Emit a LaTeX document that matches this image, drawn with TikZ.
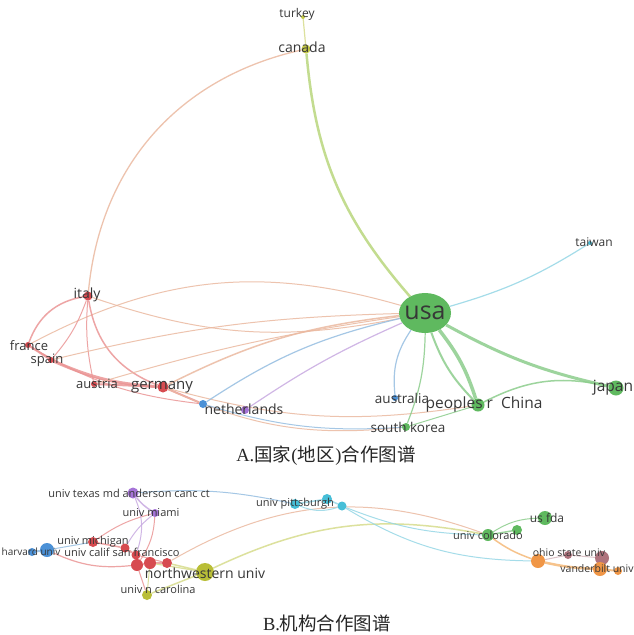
\documentclass[tikz,border=0pt]{standalone}
\usepackage{fontspec}
\setmainfont{Liberation Serif}
\newfontfamily\labfont{Open Sans}
\newfontfamily\cjk{Noto Sans CJK SC}
\usetikzlibrary{shapes.geometric}
\pgfdeclarelayer{bg}
\pgfdeclarelayer{edges}
\pgfsetlayers{bg,edges,main}
\definecolor{cG}{RGB}{95,185,95}
\definecolor{cR}{RGB}{215,75,80}
\definecolor{cY}{RGB}{195,200,70}
\definecolor{cB}{RGB}{75,145,215}
\definecolor{cP}{RGB}{165,115,215}
\definecolor{cC}{RGB}{70,190,215}
\definecolor{cO}{RGB}{240,150,70}
\definecolor{cBr}{RGB}{175,115,125}
\definecolor{cOl}{RGB}{185,190,55}
\definecolor{eG}{RGB}{140,205,140}
\definecolor{eR}{RGB}{235,150,150}
\definecolor{eY}{RGB}{215,220,140}
\definecolor{eRY}{RGB}{235,185,160}
\definecolor{eGY}{RGB}{185,215,125}
\definecolor{eB}{RGB}{150,190,225}
\definecolor{eP}{RGB}{200,170,225}
\definecolor{eC}{RGB}{150,215,230}
\definecolor{eO}{RGB}{245,185,120}
\definecolor{labc}{RGB}{55,55,55}
\begin{document}
\begin{tikzpicture}[x=1pt,y=-1pt,
  dot/.style={circle,fill=#1,draw=none,inner sep=0pt},
  lbl/.style={text=labc,inner sep=0pt,font=\labfont\fontsize{#1}{#1}\selectfont},
  lbl/.default=12,
  ed/.style={draw=#1,line width=1pt,opacity=0.85},
  captxt/.style={inner sep=0pt,text=black!85,font=\fontsize{18.5}{18.5}\selectfont}]
\useasboundingbox (0,0) rectangle (634,635);
\begin{pgfonlayer}{bg}
\fill[white] (0,0) rectangle (634,635);
\end{pgfonlayer}

% ---------- A: countries ----------
\node[dot=cY,minimum size=4pt] (turkey) at (303,17) {};
\node[dot=cY,minimum size=9pt] (canada) at (306,49) {};
\node[ellipse,fill=cG,minimum width=52pt,minimum height=40pt,inner sep=0pt] (usa) at (425,313) {};
\node[dot=cC,minimum size=4pt] (taiwan) at (590,243) {};
\node[dot=cR,minimum size=9pt] (italy) at (88,296) {};
\node[dot=cR,minimum size=6pt] (france) at (28,345) {};
\node[dot=cR,minimum size=6pt] (spain) at (51,360) {};
\node[dot=cR,minimum size=6pt] (austria) at (94,384) {};
\node[dot=cR,minimum size=11pt] (germany) at (163,387) {};
\node[dot=cB,minimum size=8pt] (nethB) at (203,404) {};
\node[dot=cP,minimum size=8pt] (nethP) at (245,410) {};
\node[dot=cB,minimum size=6pt] (australia) at (395,398) {};
\node[dot=cG,minimum size=13pt] (china) at (478,405) {};
\node[dot=cG,minimum size=8pt] (skorea) at (406,427) {};
\node[dot=cG,minimum size=15pt] (japan) at (616,388) {};

\begin{pgfonlayer}{edges}
\draw[ed=eY,line width=1.2pt] (turkey) -- (canada);
\draw[ed=eGY,line width=2.5pt] (canada) to[bend right=18] (usa);
\draw[ed=eRY,line width=1.3pt] (canada) to[bend right=36] (italy);
\draw[ed=eC,line width=1.2pt] (taiwan) to[bend left=8] (usa);
\draw[ed=eRY,line width=1pt] (italy) to[bend right=15] (usa);
\draw[ed=eRY,line width=1pt] (france) to[bend left=22] (usa);
\draw[ed=eR,line width=1.5pt] (france) to[bend left=30] (italy);
\draw[ed=eR,line width=1pt] (spain) to[bend right=10] (italy);
\draw[ed=eR,line width=1pt] (italy) to[bend right=8] (austria);
\draw[ed=eR,line width=1.5pt] (italy) to[bend right=30] (germany);
\draw[ed=eR,line width=2pt] (france) -- (spain);
\draw[ed=eR,line width=3pt] (spain) to[bend right=10] (germany);
\draw[ed=eR,line width=1pt] (france) to[bend right=15] (germany);
\draw[ed=eR,line width=1pt] (france) to[bend right=12] (nethB);
\draw[ed=eR,line width=2pt] (austria) -- (germany);
\draw[ed=eRY,line width=1.5pt] (germany) to[bend left=10] (usa);
\draw[ed=eRY,line width=1pt] (spain) to[bend left=6] (usa);
\draw[ed=eRY,line width=1pt] (austria) to[bend left=4] (usa);
\draw[ed=eR,line width=2pt] (germany) -- (nethB);
\draw[ed=eRY,line width=1pt] (germany) to[bend right=12] (china);
\draw[ed=eRY,line width=1pt] (germany) to[bend right=15] (skorea);
\draw[ed=eB,line width=1.2pt] (nethB) to[bend left=10] (usa);
\draw[ed=eP,line width=1.2pt] (nethP) to[bend left=5] (usa);
\draw[ed=eB,line width=1pt] (nethB) to[bend right=10] (skorea);
\draw[ed=eB,line width=1.2pt] (australia) to[bend left=20] (usa);
\draw[ed=eG,line width=1.2pt] (skorea) to[bend right=10] (usa);
\draw[ed=eG,line width=3.5pt] (china) to[bend right=10] (usa);
\draw[ed=eG,line width=2pt] (china) to[bend left=12] (usa);
\draw[ed=eG,line width=3pt] (usa) to[bend right=8] (japan);
\draw[ed=eG,line width=1.5pt] (china) to[bend left=20] (japan);
\draw[ed=eG,line width=1pt] (skorea) -- (china);
\end{pgfonlayer}

\node[lbl=12] (turkeyL) at (297,14) {turkey};
\node[lbl=14] (canadaL) at (302,47) {canada};
\node[lbl=25] (usaL) at (usa) {usa};
\node[lbl=12] (taiwanL) at (594,242) {taiwan};
\node[lbl=14] (italyL) at (87,295) {italy};
\node[lbl=13] (franceL) at (29,346) {france};
\node[lbl=13] (spainL) at (47,360) {spain};
\node[lbl=13] (austriaL) at (97,384) {austria};
\node[lbl=15] (germanyL) at (162,387) {germany};
\node[lbl=14] (nethL) at (244,409) {netherlands};
\node[lbl=13.5] (australiaL) at (402,398) {australia};
\node[lbl=15.5] (chinaL) at (484,404) {peoples r\ \ China};
\node[lbl=13.5] (skoreaL) at (408,427) {south korea};
\node[lbl=15.5] (japanL) at (613,388) {japan};

\node[captxt] (capA) at (326,456) {A.{\cjk 国家}(\kern0.5pt{\cjk 地区}\kern0.5pt){\cjk 合作图谱}};

% ---------- B: institutions ----------
\node[dot=cP,minimum size=11pt] (texas) at (133,493) {};
\node[dot=cP,minimum size=8pt] (miami) at (155,513) {};
\node[dot=cR,minimum size=10pt] (michigan) at (93,542) {};
\node[dot=cB,minimum size=14pt] (harvard) at (47,550) {};
\node[dot=cB,minimum size=8pt] (harvard2) at (32,552) {};
\node[dot=cR,minimum size=9pt] (cal1) at (125,548) {};
\node[dot=cR,minimum size=9pt] (cal2) at (136,555) {};
\node[dot=cR,minimum size=12pt] (cal3) at (137,565) {};
\node[dot=cR,minimum size=12pt] (cal4) at (150,563) {};
\node[dot=cR,minimum size=10pt] (cal5) at (167,563) {};
\node[dot=cOl,minimum size=18pt] (nwu) at (205,572) {};
\node[dot=cOl,minimum size=10pt] (ncar) at (147,595) {};
\node[dot=cC,minimum size=10pt] (pitt1) at (295,504) {};
\node[dot=cC,minimum size=10pt] (pitt2) at (327,499) {};
\node[dot=cC,minimum size=9pt] (pitt3) at (342,506) {};
\node[dot=cG,minimum size=12pt] (colorado) at (488,535) {};
\node[dot=cG,minimum size=10pt] (col2) at (517,530) {};
\node[dot=cG,minimum size=14pt] (usfda) at (545,518) {};
\node[dot=cBr,minimum size=8pt] (ohio) at (568,555) {};
\node[dot=cBr,minimum size=14pt] (ohio2) at (602,558) {};
\node[dot=cO,minimum size=14pt] (or1) at (538,561) {};
\node[dot=cO,minimum size=14pt] (vand) at (600,569) {};
\node[dot=cO,minimum size=8pt] (or3) at (618,571) {};

\begin{pgfonlayer}{edges}
\draw[ed=eB,line width=1pt] (texas) to[bend left=8] (pitt1);
\draw[ed=eP,line width=1.5pt] (texas) to[bend right=10] (miami);
\draw[ed=eP,line width=1pt] (miami) to[bend right=10] (cal1);
\draw[ed=eR,line width=1pt] (miami) to[bend left=15] (cal3);
\draw[ed=eR,line width=1pt] (michigan) to[bend left=10] (miami);
\draw[ed=eP,line width=1pt] (texas) to[bend left=20] (cal2);
\draw[ed=eR,line width=1.2pt] (harvard) to[bend right=15] (cal3);
\draw[ed=eB,line width=1pt] (harvard) -- (michigan);
\draw[ed=eB,line width=2pt] (harvard2) -- (harvard);
\draw[ed=eR,line width=1.5pt] (michigan) -- (cal1);
\draw[ed=eR,line width=2pt] (cal1) -- (cal2);
\draw[ed=eR,line width=2pt] (cal2) -- (cal3);
\draw[ed=eR,line width=2pt] (cal3) -- (cal4);
\draw[ed=eR,line width=2pt] (cal4) -- (cal5);
\draw[ed=eR,line width=1pt] (cal2) -- (cal5);
\draw[ed=eY,line width=1.5pt] (cal5) -- (nwu);
\draw[ed=eY,line width=1.5pt] (nwu) to[bend left=18] (colorado);
\draw[ed=eRY,line width=1pt] (cal5) to[bend left=25] (colorado);
\draw[ed=eC,line width=1.5pt] (pitt1) -- (pitt2);
\draw[ed=eC,line width=1.5pt] (pitt2) -- (pitt3);
\draw[ed=eC,line width=1pt] (pitt1) to[bend right=20] (pitt3);
\draw[ed=eC,line width=1pt] (pitt3) to[bend right=10] (colorado);
\draw[ed=eC,line width=1pt] (pitt3) to[bend right=15] (or1);
\draw[ed=eG,line width=1pt] (colorado) to[bend left=15] (usfda);
\draw[ed=eG,line width=1.5pt] (colorado) -- (col2);
\draw[ed=eO,line width=1.5pt] (colorado) to[bend right=8] (or1);
\draw[ed=eO,line width=2.5pt] (or1) to[bend right=5] (vand);
\draw[ed=eO,line width=2pt] (vand) -- (or3);
\draw[ed=cBr!50,line width=1pt] (ohio) -- (ohio2);
\draw[ed=cBr!50,line width=1pt] (or1) -- (ohio);
\draw[ed=eY,line width=1.5pt] (ncar) -- (nwu);
\draw[ed=eR,line width=1pt] (ncar) -- (cal3);
\draw[ed=eY,line width=1pt] (ncar) -- (cal4);
\draw[ed=eY,line width=1.2pt] (cal4) -- (nwu);
\end{pgfonlayer}

\node[lbl=11] (texasL) at (129,493) {univ texas md anderson canc ct};
\node[lbl=11] (miamiL) at (151,513) {univ miami};
\node[lbl=11] (michiganL) at (93,542) {univ michigan};
\node[lbl=10] (harvardL) at (31,552) {harvard univ};
\node[lbl=11] (calL) at (122,552) {univ calif san francisco};
\node[lbl=14] (nwuL) at (205,573) {northwestern univ};
\node[lbl=11] (ncarL) at (158,589) {univ n carolina};
\node[lbl=11] (pittL) at (295,504) {univ pittsburgh};
\node[lbl=11] (coloradoL) at (488,535) {univ colorado};
\node[lbl=12] (usfdaL) at (547,518) {us fda};
\node[lbl=10.5] (ohioL) at (569,553) {ohio state univ};
\node[lbl=10.5] (vandL) at (597,569) {vanderbilt univ};

\node[captxt] (capB) at (327,623) {B.{\cjk 机构合作图谱}};
\end{tikzpicture}
\end{document}
